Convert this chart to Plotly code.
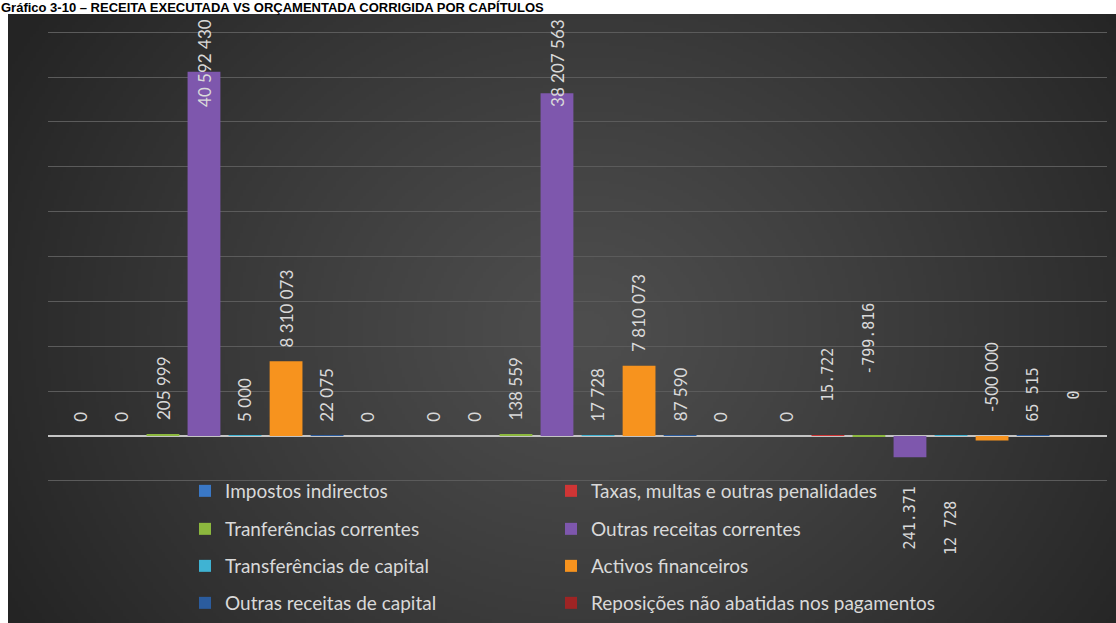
import base64
import struct
import zlib

import numpy as np
import plotly.graph_objects as go

# ---------------------------------------------------------------- data
categories = ["Orçamento corrigido", "Receita executada", "Desvio"]

series_names = [
    "Impostos indirectos",
    "Taxas, multas e outras penalidades",
    "Tranferências correntes",
    "Outras receitas correntes",
    "Transferências de capital",
    "Activos financeiros",
    "Outras receitas de capital",
    "Reposições não abatidas nos pagamentos",
]

impostos_indirectos = [0, 0, 0]
taxas_multas_penalidades = [0, 0, 15722]
tranferencias_correntes = [205999, 138559, -67440]
outras_receitas_correntes = [40592430, 38207563, -2384867]
transferencias_capital = [5000, 17728, 12728]
activos_financeiros = [8310073, 7810073, -500000]
outras_receitas_capital = [22075, 87590, 65515]
reposicoes_nao_abatidas = [0, 0, 0]

desvio_labels = ["0", "15.722", "-799.816", "241.371", "12 728", "-500 000", "65 515", "0"]

series_values = [
    impostos_indirectos,
    taxas_multas_penalidades,
    tranferencias_correntes,
    outras_receitas_correntes,
    transferencias_capital,
    activos_financeiros,
    outras_receitas_capital,
    reposicoes_nao_abatidas,
]

series_colors = [
    "#3a78c6", "#d03535", "#8cb83e", "#7e57ad",
    "#3fb3d3", "#f7931e", "#2b5c9e", "#9e2424",
]

title_text = "Gráfico 3-10 – RECEITA EXECUTADA VS ORÇAMENTADA CORRIGIDA POR CAPÍTULOS"

# ---------------------------------------------------------------- layout
W, H = 1116, 623
ML, MR, MT, MB = 48, 9, 30, 140
PW, PH = W - ML - MR, H - MT - MB
Y_MIN, Y_MAX, Y_STEP = -5_250_000, 45_250_000, 5_000_000
BARGAP, BARGROUPGAP = 0.07, 0.2
CHART_LEFT, CHART_TOP = 8, 14  # dark chart area starts here (px)

LABEL_FONT = dict(family="Lato, 'Open Sans', sans-serif", size=17, color="#d9d9d9")
MONO_FONT = dict(family="'DejaVu Sans Mono', monospace", size=15, color="#d9d9d9")
LEGEND_FONT = dict(family="Lato, 'Open Sans', sans-serif", size=19, color="#d9d9d9")


def px_to_paper_x(px):
    return (px - ML) / PW


def px_to_paper_y(py):
    return 1 + (MT - py) / PH


def fmt(v):
    return f"{v:,}".replace(",", " ")


def gradient_png(w, h):
    """Elliptical radial gradient used as the chart-area background."""
    yy, xx = np.mgrid[0:h, 0:w]
    dx = (xx / (w - 1) - 0.52) / 0.60
    dy = (yy / (h - 1) - 0.52) / 0.95
    t = np.clip(np.sqrt(dx * dx + dy * dy), 0, 1) ** 1.15
    centre, edge = 78.0, 36.0
    v = (centre + (edge - centre) * t).astype(np.uint8)
    img = np.dstack([v, v, v])
    raw = b"".join(b"\x00" + row.tobytes() for row in img)

    def chunk(tag, data):
        c = struct.pack(">I", len(data)) + tag + data
        return c + struct.pack(">I", zlib.crc32(tag + data) & 0xFFFFFFFF)

    png = b"\x89PNG\r\n\x1a\n"
    png += chunk(b"IHDR", struct.pack(">IIBBBBB", w, h, 8, 2, 0, 0, 0))
    png += chunk(b"IDAT", zlib.compress(raw, 9))
    png += chunk(b"IEND", b"")
    return "data:image/png;base64," + base64.b64encode(png).decode()


fig = go.Figure()

# one single-entry legend per series, laid out as a 2-column grid
legend_ids = ["legend"] + [f"legend{k}" for k in range(2, len(series_names) + 1)]
for i, (name, vals, col) in enumerate(zip(series_names, series_values, series_colors)):
    fig.add_trace(go.Bar(
        x=categories, y=vals, name=name,
        marker=dict(color=col, line=dict(width=0)),
        legend=legend_ids[i],
        hoverinfo="skip",
    ))

# ---------------------------------------------------------------- data labels
n = len(series_names)
slot_px = (1 - BARGAP) * PW / len(categories) / n

# label placement for the "Desvio" group: (side, offset from zero line in px)
desvio_place = {1: ("above", 33), 2: ("above", 60), 3: ("below", 49),
                4: ("below", 64), 5: ("above", 23), 7: ("above", 35)}
desvio_mono = {1, 2, 3, 4, 6, 7}

annotations = []
for i, vals in enumerate(series_values):
    xshift = (i - (n - 1) / 2) * slot_px
    for j, cat in enumerate(categories):
        v = vals[j]
        font = LABEL_FONT
        if j == len(categories) - 1:
            text = desvio_labels[i]
            if i in desvio_mono:
                font = MONO_FONT
        else:
            text = fmt(v)
        ann = dict(x=cat, xref="x", yref="y", text=text, showarrow=False,
                   textangle=-90, xshift=xshift, font=font, borderpad=0)
        if j == len(categories) - 1 and i in desvio_place:
            side, off = desvio_place[i]
            if side == "above":
                ann.update(y=0, yanchor="bottom", yshift=off)
            else:
                ann.update(y=0, yanchor="top", yshift=-off)
        elif v >= 0.8 * Y_MAX:
            # tall bars: label kept inside the chart area, pinned to its top
            ann.update(y=Y_MAX, yanchor="top", yshift=MT - CHART_TOP - 4)
        else:
            ann.update(y=max(v, 0), yanchor="bottom", yshift=13)
        annotations.append(ann)

annotations.append(dict(
    text=f"<b>{title_text}</b>", xref="paper", yref="paper",
    x=px_to_paper_x(0), y=px_to_paper_y(16), xanchor="left", yanchor="bottom",
    showarrow=False, borderpad=0,
    font=dict(family="'Liberation Sans Narrow', 'Liberation Sans', Arial, sans-serif",
              size=13, color="#000000"),
))

# ---------------------------------------------------------------- legends
legend_rows_px = [491, 529, 566, 603]
legend_cols_px = [185, 551]
legends = {}
for i, lid in enumerate(legend_ids):
    legends[lid] = dict(
        orientation="h",
        x=px_to_paper_x(legend_cols_px[i % 2]), xanchor="left",
        y=px_to_paper_y(legend_rows_px[i // 2]), yanchor="middle",
        bgcolor="rgba(0,0,0,0)", borderwidth=0, font=LEGEND_FONT,
        itemclick=False, itemdoubleclick=False,
    )

fig.update_layout(
    width=W, height=H,
    margin=dict(l=ML, r=MR, t=MT, b=MB, pad=0, autoexpand=False),
    paper_bgcolor="#ffffff", plot_bgcolor="rgba(0,0,0,0)",
    barmode="group", bargap=BARGAP, bargroupgap=BARGROUPGAP,
    showlegend=True,
    annotations=annotations,
    images=[dict(
        source=gradient_png(370, 202), xref="paper", yref="paper",
        x=px_to_paper_x(CHART_LEFT), y=px_to_paper_y(CHART_TOP),
        sizex=(W - CHART_LEFT) / PW, sizey=(H - CHART_TOP) / PH,
        xanchor="left", yanchor="top", sizing="stretch", layer="below",
    )],
    xaxis=dict(showticklabels=False, showgrid=False, zeroline=False,
               showline=False, ticks="", fixedrange=True),
    yaxis=dict(range=[Y_MIN, Y_MAX], tick0=0, dtick=Y_STEP,
               showticklabels=False, ticks="", showline=False,
               gridcolor="#5b5b5b", gridwidth=1,
               zeroline=True, zerolinecolor="#c4c4c4", zerolinewidth=2,
               layer="below traces", fixedrange=True),
    **legends,
)

fig.write_html("out.html")
